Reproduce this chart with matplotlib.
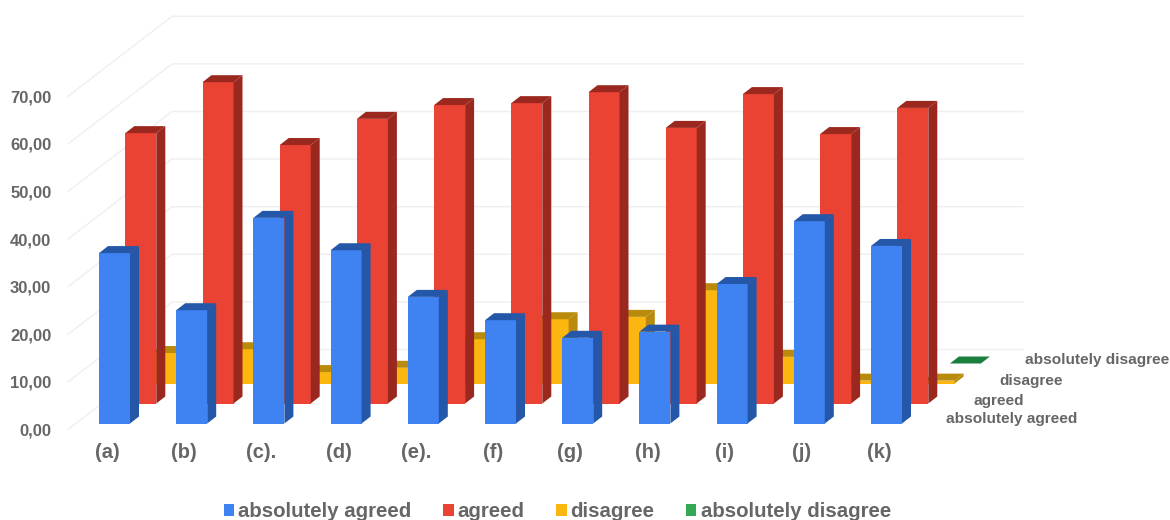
import matplotlib
matplotlib.use("Agg")
import matplotlib.pyplot as plt
from matplotlib.patches import Patch

categories = ["(a)", "(b)", "(c).", "(d)", "(e).", "(f)", "(g)", "(h)", "(i)", "(j)", "(k)"]
absolutely_agreed = [35.8, 23.8, 43.2, 36.4, 26.6, 21.7, 18.0, 19.3, 29.3, 42.5, 37.3]
agreed = [56.8, 67.5, 54.3, 59.8, 62.7, 63.1, 65.4, 57.9, 65.0, 56.6, 62.1]
disagree = [6.4, 7.2, 2.4, 3.3, 9.3, 13.5, 14.0, 19.6, 5.6, 0.6, 0.6]
absolutely_disagree = [0.0, 0.0, 0.0, 0.0, 0.0, 0.0, 0.0, 0.0, 0.0, 0.0, 0.0]
series_names = ["absolutely agreed", "agreed", "disagree", "absolutely disagree"]
series_values = [absolutely_agreed, agreed, disagree, absolutely_disagree]
y_ticks = [0, 10, 20, 30, 40, 50, 60, 70, 80]

front_colors = ["#3F82F2", "#EA4233", "#FBB70F", "#34A853"]
dark_colors = ["#2557A8", "#9A281E", "#B98A0C", "#1C7E3C"]

W, H = 1170, 520
UX, UY = 77.2, 4.76  # pixels per category, pixels per value unit
X0 = 107.0           # pixel of first category tick
Y0 = 429.5           # pixel of value 0 on the front plane

plt.rcParams["font.family"] = ["Liberation Sans", "DejaVu Sans"]
fig = plt.figure(figsize=(W / 100, H / 100), dpi=100)
ax_left, ax_right = 68, 1023
ax_top = Y0 - 80 * UY
ax = fig.add_axes([ax_left / W, 1 - Y0 / H, (ax_right - ax_left) / W, (Y0 - ax_top) / H])
ax.set_xlim((ax_left - X0) / UX, (ax_right - X0) / UX)
ax.set_ylim(0, 80)
for s in ax.spines.values():
    s.set_visible(False)
ax.patch.set_visible(False)

# depth geometry, in data units
bar_w = 31 / UX
side_dx, side_dy = 9 / UX, 7 / UY
step_dx, step_dy = 26.3 / UX, 20 / UY
first_dx, first_dy = 7.5 / UX, 6 / UY
wall_dx, wall_dy = 104 / UX, 80 / UY

# gridlines: floor/left diagonal plus back wall
grid_col = "#EFEFEF"
xl = ax.get_xlim()
for t in y_ticks[:-1]:
    ax.plot([xl[0], xl[0] + wall_dx, xl[1]], [t, t + wall_dy, t + wall_dy],
            color=grid_col, lw=1.0, zorder=0, clip_on=False)

# bars, back series first
for s in range(3, -1, -1):
    z = 10 - s
    dx = first_dx + s * step_dx
    dy = first_dy + s * step_dy
    for i, v in enumerate(series_values[s]):
        cx = i + dx
        l, r = cx - bar_w / 2, cx + bar_w / 2
        b, t = dy, dy + v
        if v > 0:
            ax.bar(cx, v, width=bar_w, bottom=dy, color=front_colors[s], lw=0, zorder=z, clip_on=False)
            ax.fill([r, r + side_dx, r + side_dx, r], [b, b + side_dy, t + side_dy, t],
                    color=dark_colors[s], lw=0, zorder=z, clip_on=False)
        ax.fill([l, r, r + side_dx, l + side_dx], [t, t, t + side_dy, t + side_dy],
                color=dark_colors[s], lw=0, zorder=z, clip_on=False)

# axes labels
label_col = "#666666"
ax.set_yticks(y_ticks[:-1])
ax.set_yticklabels([f"{t:.2f}".replace(".", ",") for t in y_ticks[:-1]],
                   fontsize=12, fontweight="bold", color=label_col)
ax.set_xticks(range(len(categories)))
ax.set_xticklabels(categories, fontsize=14.5, fontweight="bold", color=label_col)
ax.tick_params(axis="both", length=0)
ax.tick_params(axis="y", pad=12)
ax.tick_params(axis="x", pad=10)

# depth axis labels
depth_left = [946, 973, 999, 1025]
depth_y = [419, 400.5, 380.5, 360]
for name, px, py in zip(series_names, depth_left, depth_y):
    ax.text((px - X0) / UX, (Y0 - py) / UY, name, fontsize=11.1, fontweight="bold",
            color=label_col, ha="left", va="center", clip_on=False, zorder=20)

handles = [Patch(facecolor=c, edgecolor="none", label=n) for c, n in zip(front_colors, series_names)]
fig.legend(handles=handles, loc="center", bbox_to_anchor=(557.5 / W, 1 - 511.5 / H), ncol=4, frameon=False,
           prop={"size": 14.7, "weight": "bold"}, labelcolor=label_col, handlelength=0.5, handleheight=0.5,
           handletextpad=0.2, columnspacing=1.55, borderpad=0, borderaxespad=0)

fig.savefig("out.png", dpi=100)
